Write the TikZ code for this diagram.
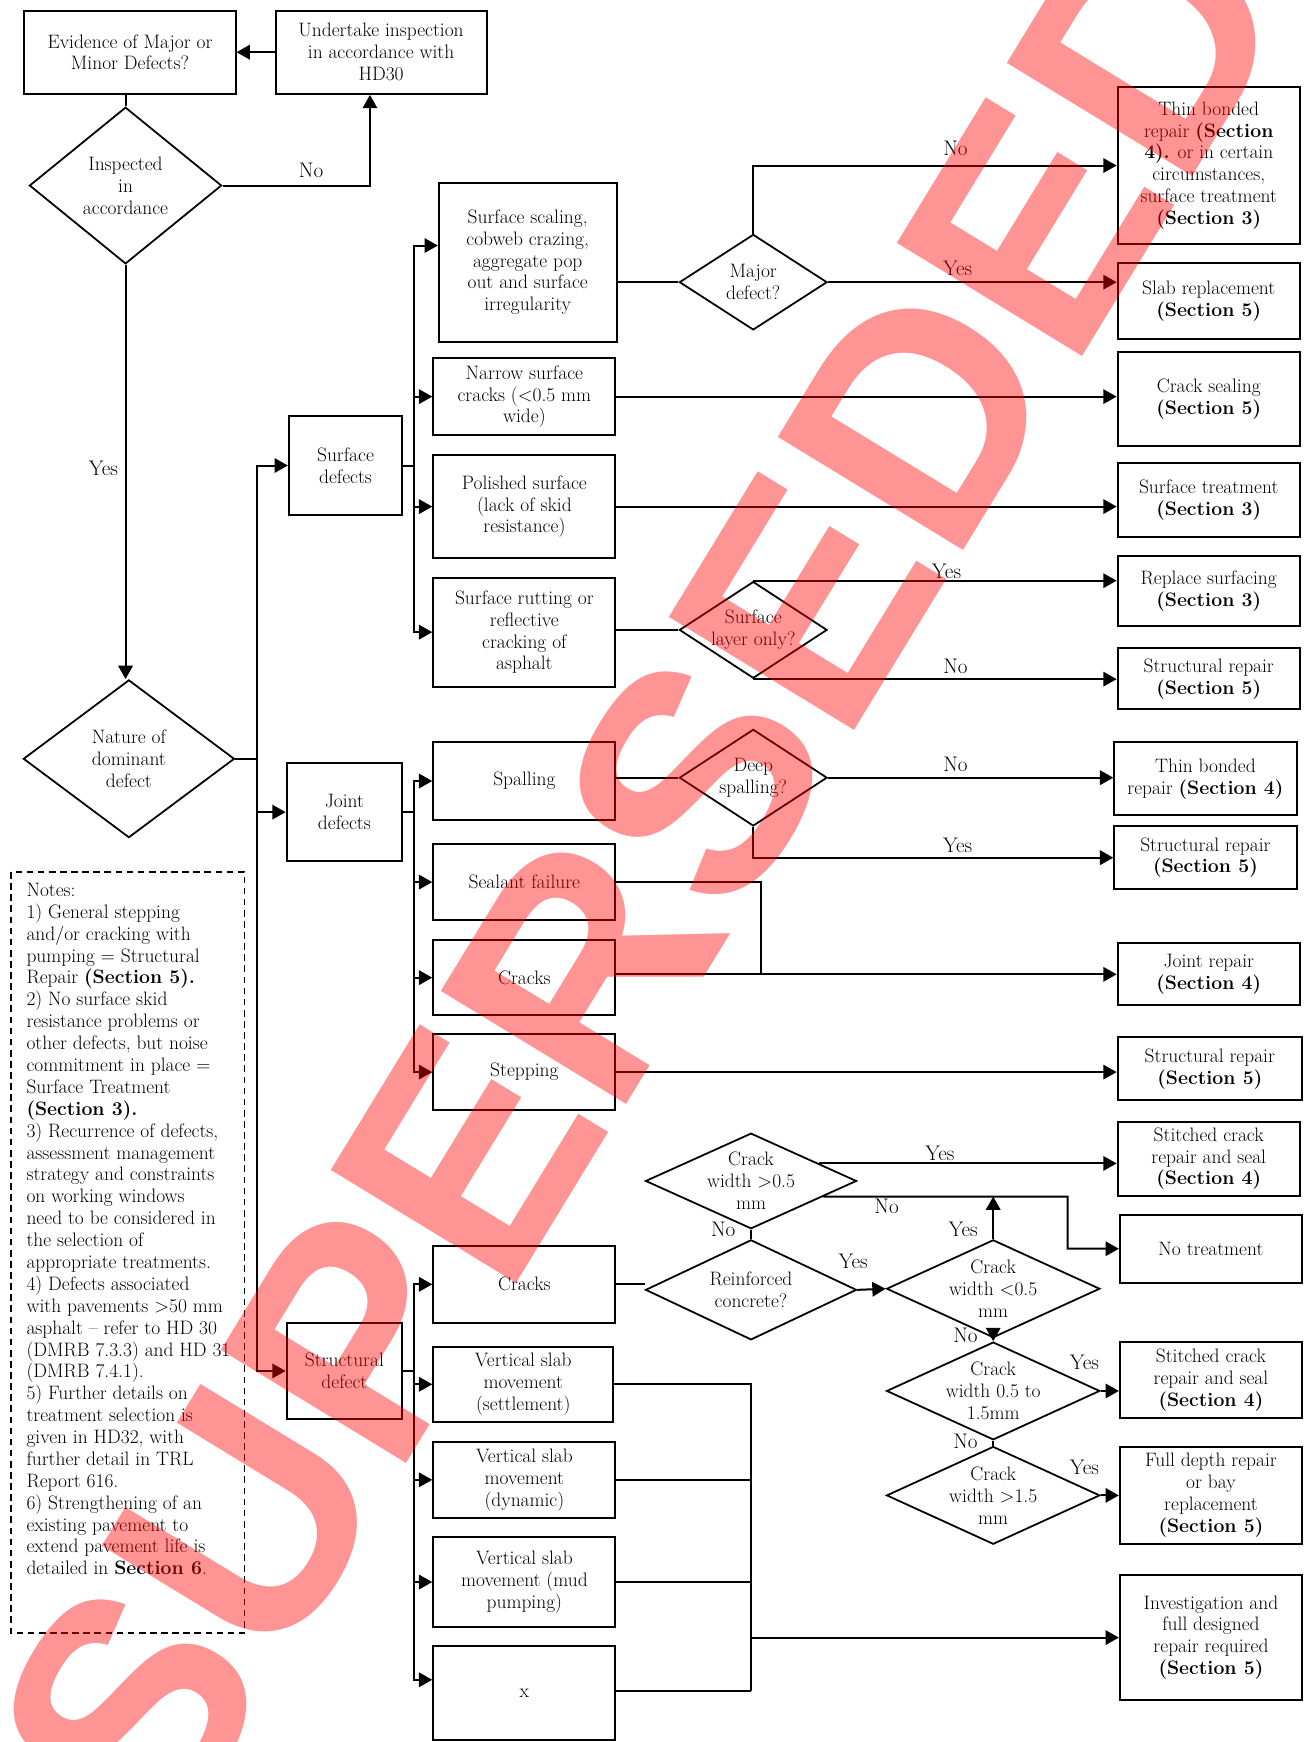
\documentclass[tikz,border=0pt]{standalone}
\usepackage{fontspec}
\newfontfamily\wmfont{Liberation Sans}
\usetikzlibrary{shapes.geometric,arrows.meta,calc}
\newcommand{\boxfont}{\fontsize{17.5}{19.7}\selectfont}
\newcommand{\lblfont}{\fontsize{19}{21}\selectfont}

\begin{document}
\begin{tikzpicture}[x=1pt, y=-1pt, line width=1.8pt, >={Triangle[length=12pt,width=13pt]},
  box/.style={draw, align=center, inner sep=0pt, font=\boxfont},
  dec/.style={draw, diamond, inner sep=0pt, line width=1.6pt},
  txt/.style={align=center, inner sep=0pt, font=\boxfont},
  lbl/.style={inner sep=0pt, font=\lblfont}]
\useasboundingbox (0,0) rectangle (1173,1568);

\node[box, minimum width=190pt, minimum height=75pt] (evid) at (117,47) {Evidence of Major or\\Minor Defects?};
\node[box, minimum width=190pt, minimum height=75pt] (undertake) at (343,47) {Undertake inspection\\in accordance with\\HD30};
\node[dec, minimum width=173pt, minimum height=141pt] (insp) at (113,167) {};
\node[txt] (insp-t) at (insp) {Inspected\\in\\accordance};
\node[dec, minimum width=190pt, minimum height=142pt] (nature) at (116,683) {};
\node[txt] (nature-t) at (nature) {Nature of\\dominant\\defect};

\node[box, minimum width=102pt, minimum height=89pt] (surf) at (311,419) {Surface\\defects};
\node[box, minimum width=104pt, minimum height=88pt] (joint) at (310,731) {Joint\\defects};
\node[box, minimum width=104pt, minimum height=86pt] (struct) at (310,1234) {Structural\\defect};

\node[box, minimum width=160pt, minimum height=143pt] (scaling) at (475,236) {Surface scaling,\\cobweb crazing,\\aggregate pop\\out and surface\\irregularity};
\node[box, minimum width=164pt, minimum height=69pt] (narrow) at (472,357) {Narrow surface\\cracks (<0.5 mm\\wide)};
\node[box, minimum width=164pt, minimum height=93pt] (polished) at (472,456) {Polished surface\\(lack of skid\\resistance)};
\node[box, minimum width=164pt, minimum height=98pt] (rutting) at (472,569) {Surface rutting or\\reflective\\cracking of\\asphalt};
\node[box, minimum width=164pt, minimum height=70pt] (spalling) at (472,703) {Spalling};
\node[box, minimum width=164pt, minimum height=68pt] (sealant) at (472,794) {Sealant failure};
\node[box, minimum width=164pt, minimum height=68pt] (jcracks) at (472,880) {Cracks};
\node[box, minimum width=164pt, minimum height=68pt] (stepping) at (472,965) {Stepping};
\node[box, minimum width=164pt, minimum height=69pt] (scracks) at (472,1156) {Cracks};
\node[box, minimum width=162pt, minimum height=68pt] (settle) at (471,1246) {Vertical slab\\movement\\(settlement)};
\node[box, minimum width=164pt, minimum height=68pt] (dynamic) at (472,1332) {Vertical slab\\movement\\(dynamic)};
\node[box, minimum width=164pt, minimum height=81pt] (mud) at (472,1424) {Vertical slab\\movement (mud\\pumping)};
\node[box, minimum width=164pt, minimum height=84pt] (xbox) at (472,1524) {x};

\node[dec, minimum width=133pt, minimum height=86pt] (major) at (678,254) {};
\node[txt] (major-t) at (major) {Major\\defect?};
\node[dec, minimum width=133pt, minimum height=87pt] (layer) at (678,567) {};
\node[txt] (layer-t) at (layer) {Surface\\layer only?};
\node[dec, minimum width=133pt, minimum height=87pt] (deep) at (678,700) {};
\node[txt] (deep-t) at (deep) {Deep\\spalling?};
\node[dec, minimum width=190pt, minimum height=86pt] (cw05) at (676,1063) {};
\node[txt] (cw05-t) at (cw05) {Crack\\width >0.5\\mm};
\node[dec, minimum width=190pt, minimum height=90pt] (rc) at (676,1161) {};
\node[txt] (rc-t) at (rc) {Reinforced\\concrete?};
\node[dec, minimum width=192pt, minimum height=88pt] (cw1) at (894,1160) {};
\node[txt] (cw1-t) at (cw1) {Crack\\width <0.5\\mm};
\node[dec, minimum width=192pt, minimum height=88pt] (cw2) at (894,1252) {};
\node[txt] (cw2-t) at (cw2) {Crack\\width 0.5 to\\1.5mm};
\node[dec, minimum width=192pt, minimum height=88pt] (cw3) at (894,1346) {};
\node[txt] (cw3-t) at (cw3) {Crack\\width >1.5\\mm};

\node[box, minimum width=164pt, minimum height=142pt] (tb1) at (1088,149) {Thin bonded\\repair \textbf{(Section}\\\textbf{4).} or in certain\\circumstances,\\surface treatment\\\textbf{(Section 3)}};
\node[box, minimum width=164pt, minimum height=68pt] (slab) at (1088,271) {Slab replacement\\\textbf{(Section 5)}};
\node[box, minimum width=164pt, minimum height=84pt] (crseal) at (1088,359) {Crack sealing\\\textbf{(Section 5)}};
\node[box, minimum width=164pt, minimum height=66pt] (surftr) at (1088,450) {Surface treatment\\\textbf{(Section 3)}};
\node[box, minimum width=164pt, minimum height=63pt] (replsurf) at (1088,532) {Replace surfacing\\\textbf{(Section 3)}};
\node[box, minimum width=164pt, minimum height=55pt] (strrep1) at (1088,611) {Structural repair\\\textbf{(Section 5)}};
\node[box, minimum width=164pt, minimum height=66pt] (tb2) at (1085,701) {Thin bonded\\repair \textbf{(Section 4)}};
\node[box, minimum width=164pt, minimum height=57pt] (strrep2) at (1085,772) {Structural repair\\\textbf{(Section 5)}};
\node[box, minimum width=164pt, minimum height=56pt] (jointrep) at (1088,877) {Joint repair\\\textbf{(Section 4)}};
\node[box, minimum width=166pt, minimum height=57pt] (strrep3) at (1089,962) {Structural repair\\\textbf{(Section 5)}};
\node[box, minimum width=164pt, minimum height=67pt] (stitch1) at (1088,1043) {Stitched crack\\repair and seal\\\textbf{(Section 4)}};
\node[box, minimum width=164pt, minimum height=61pt] (notreat) at (1090,1124) {No treatment};
\node[box, minimum width=164pt, minimum height=68pt] (stitch2) at (1090,1242) {Stitched crack\\repair and seal\\\textbf{(Section 4)}};
\node[box, minimum width=164pt, minimum height=87pt] (fulldepth) at (1090,1346) {Full depth repair\\or bay\\replacement\\\textbf{(Section 5)}};
\node[box, minimum width=164pt, minimum height=113pt] (invest) at (1090,1474) {Investigation and\\full designed\\repair required\\\textbf{(Section 5)}};

\draw[dash pattern=on 6pt off 4pt, line width=1.2pt] (10,785) rectangle (220,1470);
\node[anchor=north west, align=left, inner sep=0pt, font=\boxfont] (notes) at (23,794) {Notes:\\1) General stepping\\and/or cracking with\\pumping = Structural\\Repair \textbf{(Section 5).}\\2) No surface skid\\resistance problems or\\other defects, but noise\\commitment in place =\\Surface Treatment\\\textbf{(Section 3).}\\3) Recurrence of defects,\\assessment management\\strategy and constraints\\on working windows\\need to be considered in\\the selection of\\appropriate treatments.\\4) Defects associated\\with pavements >50 mm\\asphalt -- refer to HD 30\\(DMRB 7.3.3) and HD 31\\(DMRB 7.4.1).\\5) Further details on\\treatment selection is\\given in HD32, with\\further detail in TRL\\Report 616.\\6) Strengthening of an\\existing pavement to\\extend pavement life is\\detailed in \textbf{Section 6}.};

\coordinate (noturn) at (333,167);
\coordinate (mainbus) at (231,683);
\coordinate (sbus) at (373,419);
\coordinate (jbus) at (373,731);
\coordinate (stbus) at (373,1234);
\coordinate (jn) at (685,877);
\coordinate (cwyes) at ($(cw05.east)!0.36!(cw05.north)$);
\coordinate (cwno) at ($(cw05.east)!0.32!(cw05.south)$);
\coordinate (nt) at (961,1077);
\coordinate (vbot) at (676,1522);

\draw[->] (undertake) -- (evid);
\draw (evid.south -| insp) -- (insp.north);
\draw[->] (insp.east) -- (noturn) -- (noturn |- undertake.south);
\draw[->] (insp.south) -- (insp.south |- nature.north);
\draw (nature.east) -- (mainbus);
\draw[->] (mainbus) |- (surf);
\draw[->] (mainbus) |- (joint);
\draw[->] (mainbus) |- (struct);

\draw (surf) -- (sbus);
\draw[->] (sbus) |- ([yshift=15pt]scaling.west);
\draw[->] (sbus) |- (narrow);
\draw[->] (sbus) |- (polished);
\draw[->] (sbus) |- (rutting);
\draw (joint) -- (jbus);
\draw[->] (jbus) |- (spalling);
\draw[->] (jbus) |- (sealant);
\draw[->] (jbus) |- (jcracks);
\draw[->] (jbus) |- (stepping);
\draw (struct) -- (stbus);
\draw[->] (stbus) |- (scracks);
\draw[->] (stbus) |- (settle);
\draw[->] (stbus) |- (dynamic);
\draw[->] (stbus) |- (mud);
\draw[->] (stbus) |- ([yshift=12pt]xbox.west);

\draw (scaling.east |- major) -- (major.west);
\draw[->] (major.north) |- (tb1);
\draw[->] (major.east) -- (major.east -| slab.west);
\draw[->] (narrow.east) -- (narrow.east -| crseal.west);
\draw[->] (polished.east) -- (polished.east -| surftr.west);
\draw (rutting.east |- layer) -- (layer.west);
\draw[->] (layer.north) -- (layer.north -| replsurf.west);
\draw[->] (layer.south) -- (layer.south -| strrep1.west);
\draw (spalling.east |- deep) -- (deep.west);
\draw[->] (deep.east) -- (deep.east -| tb2.west);
\draw[->] (deep.south) |- (strrep2);
\draw (sealant.east) -| (jn);
\draw[->] (jcracks.east |- jn) -- (jn -| jointrep.west);
\draw[->] (stepping.east) -- (stepping.east -| strrep3.west);

\draw (scracks.east) -- (scracks.east -| rc.west);
\draw[->] (rc.east) -- (cw1.west);
\draw (rc.north) -- (cw05.south);
\draw[->] (cwyes) -- (cwyes -| stitch1.west);
\draw[->] (cwno) -- (nt) |- (notreat);
\draw[->] (cw1.north) -- (cw1.north |- nt);
\draw[->] (cw1.south) -- (cw2.north);
\draw (cw2.south) -- (cw3.north);
\draw[->] (cw2.east) -- (cw2.east -| stitch2.west);
\draw[->] (cw3.east) -- (cw3.east -| fulldepth.west);
\draw (settle.east) -| (vbot);
\draw (dynamic.east) -- (dynamic.east -| vbot);
\draw (mud.east) -- (mud.east -| vbot);
\draw (xbox.east |- vbot) -- (vbot);
\draw[->] (vbot |- invest) -- (invest);

\node[lbl] (l-insp-no) at (280,153) {No};
\node[lbl] (l-insp-yes) at (93,422) {Yes};
\node[lbl] (l-major-no) at (860,134) {No};
\node[lbl] (l-major-yes) at (862,242) {Yes};
\node[lbl] (l-layer-yes) at (852,514) {Yes};
\node[lbl] (l-layer-no) at (860,600) {No};
\node[lbl] (l-deep-no) at (860,688) {No};
\node[lbl] (l-deep-yes) at (862,761) {Yes};
\node[lbl] (l-cw05-yes) at (846,1038) {Yes};
\node[lbl] (l-cw05-no) at (798,1086) {No};
\node[lbl] (l-rc-no) at (651,1107) {No};
\node[lbl] (l-rc-yes) at (768,1135) {Yes};
\node[lbl] (l-cw1-yes) at (867,1107) {Yes};
\node[lbl] (l-cw1-no) at (869,1202) {No};
\node[lbl] (l-cw2-yes) at (976,1226) {Yes};
\node[lbl] (l-cw2-no) at (869,1297) {No};
\node[lbl] (l-cw3-yes) at (976,1321) {Yes};

\node[rotate=58.6, text=red, opacity=0.42, text opacity=0.42, inner sep=0pt, font=\wmfont\bfseries\fontsize{284}{284}\selectfont] (wm) at (577,784) {SUPERSEDED};
\end{tikzpicture}
\end{document}
